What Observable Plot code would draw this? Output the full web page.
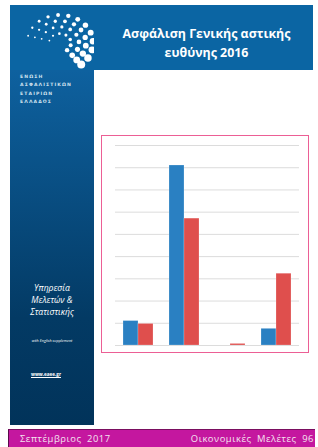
<!DOCTYPE html>
<html><head><meta charset="utf-8">
<script src="https://cdn.jsdelivr.net/npm/d3@7"></script>
<script src="https://cdn.jsdelivr.net/npm/@observablehq/plot@0.6"></script>
<style>
html,body{margin:0;padding:0;background:#fff;width:318px;height:447px;overflow:hidden;font-family:"Open Sans","DejaVu Sans",sans-serif;}
#page{position:relative;width:318px;height:447px;}
#header{position:absolute;left:10px;top:5px;width:303px;height:65px;background:#0b65a3;}
#side{position:absolute;left:10px;top:70px;width:84px;height:355px;background:linear-gradient(#0e619f,#033a64 70%,#01335a);}
#title{position:absolute;left:100px;top:24px;width:213px;text-align:center;color:#fff;font-weight:bold;font-size:12.4px;line-height:19px;font-family:"Open Sans",sans-serif;}
#org{position:absolute;left:20px;top:73px;color:#cfe0ee;font-size:4.6px;font-weight:bold;letter-spacing:1.1px;line-height:8.3px;font-family:"DejaVu Sans",sans-serif;}
#svc{position:absolute;left:10px;top:282px;width:84px;text-align:center;color:#fff;font-style:italic;font-size:8.6px;line-height:12px;}
#eng{position:absolute;left:10px;top:338px;width:84px;text-align:center;color:#fff;font-style:italic;font-size:3.8px;}
#www{position:absolute;left:31px;top:371px;color:#fff;font-size:4.6px;font-weight:bold;text-decoration:underline;}
#chartbox{position:absolute;left:101px;top:135px;width:206px;height:216px;border:1.5px solid #ec5f95;background:#fff;}
#chart{position:absolute;left:101px;top:135px;}
#footer{position:absolute;left:8px;top:429px;width:306px;height:18px;background:#c4179f;border-left:1px solid #5a0a4a;border-top:1px solid #7a0e60;}
#footer span{position:absolute;top:2px;color:#f4e4f0;font-size:9.4px;letter-spacing:0.55px;word-spacing:2.5px;font-family:"Open Sans",sans-serif;}
</style></head>
<body><div id="page">
<div id="header"></div>
<div id="side"></div>
<svg id="logo" style="position:absolute;left:10px;top:5px" width="84" height="65"></svg>
<div id="title">Ασφάλιση Γενικής αστικής<br>ευθύνης 2016</div>
<div id="org">ΕΝΩΣΗ<br>ΑΣΦΑΛΙΣΤΙΚΩΝ<br>ΕΤΑΙΡΙΩΝ<br>ΕΛΛΑΔΟΣ</div>
<div id="svc">Υπηρεσία<br>Μελετών &amp;<br>Στατιστικής</div>
<div id="eng">with English supplement</div>
<div id="www">www.eaee.gr</div>
<div id="chartbox"></div>
<div id="chart"></div>
<div id="footer"><span style="left:11px">Σεπτέμβριος 2017</span><span style="right:1px">Οικονομικές Μελέτες 96</span></div>
</div>
<script>
const categories = ["Κατηγορία Α", "Κατηγορία Β", "Κατηγορία Γ", "Κατηγορία Δ"];
const series = ["Σειρά 1", "Σειρά 2"];
const seriesBlue = [1.10, 8.10, 0, 0.75];
const seriesRed = [0.97, 5.71, 0.07, 3.23];
const yTicks = [0, 1, 2, 3, 4, 5, 6, 7, 8, 9];
const colors = ["#2a80c2", "#df4f4d"];

const rows = [];
categories.forEach((c, i) => {
  rows.push({cat: c, s: series[0], v: seriesBlue[i]});
  rows.push({cat: c, s: series[1], v: seriesRed[i]});
});

const chart = Plot.plot({
  width: 208, height: 218,
  marginLeft: 14, marginRight: 10, marginTop: 10, marginBottom: 8,
  fx: {domain: categories, padding: 0, axis: null},
  x: {domain: series, paddingInner: 0.03, paddingOuter: 0.52, axis: null},
  y: {domain: [0, 9], axis: null},
  color: {domain: series, range: colors},
  style: {background: "transparent"},
  marks: [
    Plot.ruleY(yTicks, {stroke: "#dcdcdc", strokeWidth: 1}),
    Plot.barY(rows, {fx: "cat", x: "s", y: "v", fill: "s", stroke: "#ffffff", strokeOpacity: 0.35, strokeWidth: 0.6})
  ]
});
document.getElementById("chart").append(chart);

// decorative logo dots
const logo = d3.select("#logo");
const cx = 50, cy = 38;
const rings = [11, 19, 26, 33];
rings.forEach((r, k) => {
  const n = 7 + k * 2;
  for (let j = 0; j < n; j++) {
    const t = j / (n - 1);
    const ang = (195 + t * 215) * Math.PI / 180;
    logo.append("circle")
      .attr("cx", cx + r * Math.cos(ang))
      .attr("cy", cy + r * Math.sin(ang) * 0.85)
      .attr("r", 0.9 + t * (1.3 + k * 0.6))
      .attr("fill", "#fff");
  }
});
</script>
</body></html>
